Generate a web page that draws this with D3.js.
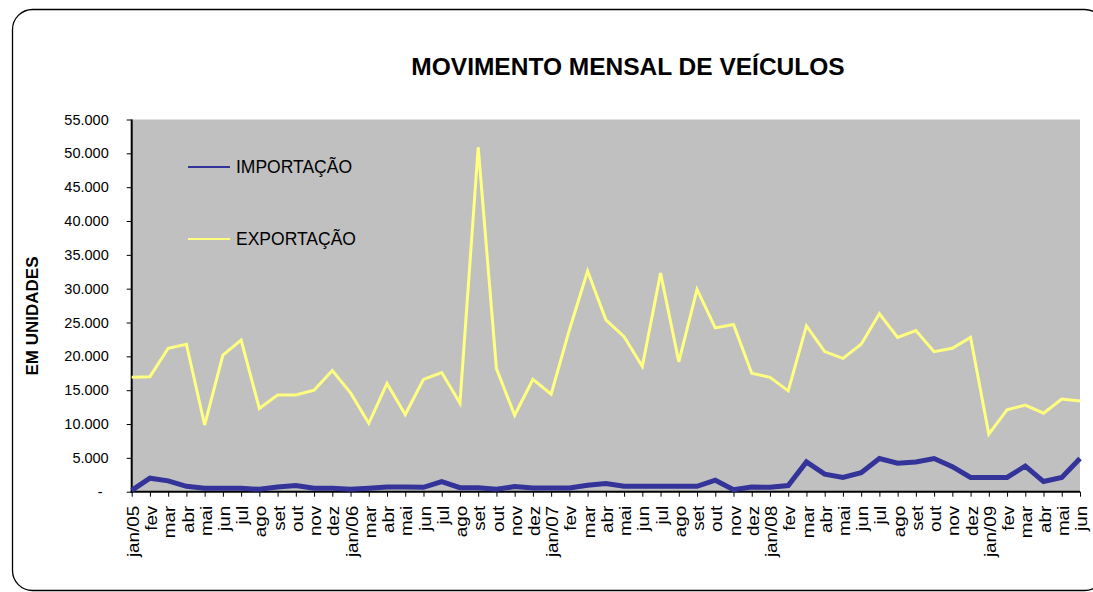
<!DOCTYPE html>
<html>
<head>
<meta charset="utf-8">
<script src="https://cdn.jsdelivr.net/npm/d3@7"></script>
<style>
  body { margin: 0; background: #fff; }
  svg { display: block; font-family: Arial, "Liberation Sans", sans-serif; }
</style>
</head>
<body>
<svg id="chart" width="1093" height="592"></svg>
<script>
var months = ["jan/05","fev","mar","abr","mai","jun","jul","ago","set","out","nov","dez",
  "jan/06","mar","abr","mai","jun","jul","ago","set","out","nov","dez",
  "jan/07","fev","mar","abr","mai","jun","jul","ago","set","out","nov","dez",
  "jan/08","fev","mar","abr","mai","jun","jul","ago","set","out","nov","dez",
  "jan/09","fev","mar","abr","mai","jun"];

var importacao = [200,2000,1600,800,500,500,500,350,700,900,500,500,
  350,500,700,700,650,1500,600,600,350,750,550,
  550,550,950,1200,800,800,800,800,800,1700,300,700,
  650,900,4400,2600,2100,2800,4900,4200,4400,4900,3700,2100,
  2100,2100,3800,1500,2100,4900];

var exportacao = [16900,17000,21200,21800,9850,20200,22400,12300,14300,14300,15000,17900,
  14600,10100,16000,11400,16600,17600,13100,50900,18200,11300,16600,
  14400,23900,32600,25400,22900,18500,32300,19200,29900,24200,24700,17500,
  16900,14900,24500,20700,19700,21800,26300,22800,23800,20700,21200,22800,
  8500,12100,12800,11600,13700,13400];

var yTicks = [0,5000,10000,15000,20000,25000,30000,35000,40000,45000,50000,55000];

var series = [
  {name: "IMPORTAÇÃO", values: importacao, color: "#333399", width: 5, legendY: 167},
  {name: "EXPORTAÇÃO", values: exportacao, color: "#ffff80", width: 3, legendY: 239}
];

var svg = d3.select("#chart");
var pLeft = 131.7, pRight = 1080, pTop = 119.5, pBottom = 491.7;

// outer frame
svg.append("rect")
  .attr("x", 12.5).attr("y", 9.5)
  .attr("width", 1092).attr("height", 581)
  .attr("rx", 20).attr("ry", 20)
  .attr("fill", "#fff").attr("stroke", "#000").attr("stroke-width", 1.3);

svg.append("text")
  .attr("x", 628).attr("y", 75)
  .attr("text-anchor", "middle")
  .style("font-size", "24.5px").style("font-weight", "bold")
  .text("MOVIMENTO MENSAL DE VEÍCULOS");

var x = d3.scalePoint().domain(d3.range(months.length)).range([pLeft, pRight]);
var y = d3.scaleLinear().domain([0, 55000]).range([pBottom, pTop]);

svg.append("rect")
  .attr("x", pLeft).attr("y", pTop)
  .attr("width", pRight - pLeft).attr("height", pBottom - pTop)
  .attr("fill", "#c0c0c0");

var loc = d3.formatLocale({decimal: ",", thousands: ".", grouping: [3], currency: ["", ""]});
var fmt = loc.format(",d");

var yAxis = svg.append("g")
  .attr("transform", "translate(" + pLeft + ",0)")
  .call(d3.axisLeft(y).tickValues(yTicks).tickSize(5).tickPadding(18)
    .tickFormat(function(d) { return d === 0 ? "-" : fmt(d); }));
yAxis.selectAll("text").style("font-size", "14.5px").attr("fill", "#000")
  .attr("dx", function(d) { return d === 0 ? -6 : 0; });
yAxis.select(".domain").remove();

var xAxis = svg.append("g")
  .attr("transform", "translate(0," + pBottom + ")")
  .call(d3.axisBottom(x).tickSize(5).tickSizeOuter(0)
    .tickFormat(function(i) { return months[i]; }));
xAxis.select(".domain").remove();
xAxis.selectAll("text")
  .style("font-size", "16px").attr("fill", "#000")
  .attr("text-anchor", "end")
  .attr("transform", "rotate(-90) scale(1.18,1)")
  .attr("x", -14 / 1.18).attr("y", 1).attr("dy", "0.35em");

// axis lines
svg.append("line").attr("x1", pLeft).attr("x2", pLeft).attr("y1", pTop).attr("y2", pBottom + 1)
  .attr("stroke", "#000").attr("stroke-width", 2);
svg.append("line").attr("x1", pLeft - 1).attr("x2", pRight).attr("y1", pBottom).attr("y2", pBottom)
  .attr("stroke", "#000").attr("stroke-width", 2);

var line = d3.line()
  .x(function(d, i) { return x(i); })
  .y(function(d) { return y(d); });

svg.selectAll(".serie")
  .data(series.slice().reverse())
  .enter().append("path")
  .attr("class", "serie")
  .attr("d", function(d) { return line(d.values); })
  .attr("fill", "none")
  .attr("stroke", function(d) { return d.color; })
  .attr("stroke-width", function(d) { return d.width; })
  .attr("stroke-linejoin", "miter");

// legend
var lg = svg.selectAll(".leg").data(series).enter().append("g").attr("class", "leg");
lg.append("line")
  .attr("x1", 188).attr("x2", 230)
  .attr("y1", function(d) { return d.legendY; })
  .attr("y2", function(d) { return d.legendY; })
  .attr("stroke", function(d) { return d.color; })
  .attr("stroke-width", 2);
lg.append("text")
  .attr("x", 236)
  .attr("y", function(d) { return d.legendY; })
  .attr("dy", "0.36em")
  .style("font-size", "17.5px")
  .text(function(d) { return d.name; });

svg.append("text")
  .attr("transform", "translate(38,316) rotate(-90)")
  .attr("text-anchor", "middle")
  .style("font-size", "17px").style("font-weight", "bold")
  .text("EM UNIDADES");
</script>
</body>
</html>
